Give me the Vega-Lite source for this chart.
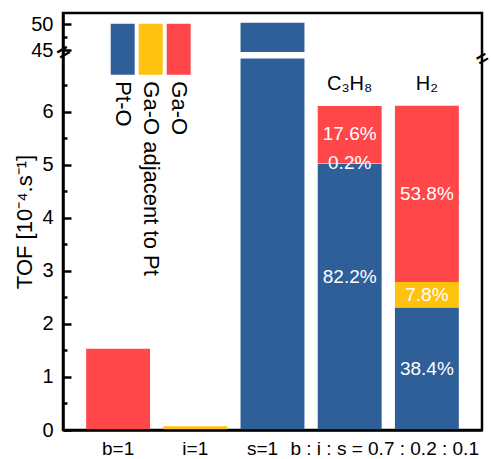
{
  "$schema": "https://vega.github.io/schema/vega-lite/v6.json",
  "width": 419,
  "height": 417,
  "autosize": {"type": "none"},
  "padding": {"left": 63, "top": 13, "right": 9, "bottom": 29},
  "background": "white",
  "config": {"font": "Liberation Sans", "view": {"stroke": "black", "strokeWidth": 2.5}, "axis": {"zindex": 1}},
  "data": {
    "values": [
      {"cat": "b=1", "comp": "Ga-O", "value": 1.53},
      {"cat": "i=1", "comp": "Ga-O adjacent to Pt", "value": 0.07},
      {"cat": "s=1", "comp": "Pt-O", "value": 50.3},
      {"cat": "C₃H₈", "comp": "Pt-O", "value": 5.02, "pct": "82.2%"},
      {"cat": "C₃H₈", "comp": "Ga-O adjacent to Pt", "value": 0.012, "pct": "0.2%"},
      {"cat": "C₃H₈", "comp": "Ga-O", "value": 1.075, "pct": "17.6%"},
      {"cat": "H₂", "comp": "Pt-O", "value": 2.31, "pct": "38.4%"},
      {"cat": "H₂", "comp": "Ga-O adjacent to Pt", "value": 0.48, "pct": "7.8%"},
      {"cat": "H₂", "comp": "Ga-O", "value": 3.32, "pct": "53.8%"}
    ]
  },
  "layer": [
    {
      "mark": {"type": "bar"},
      "encoding": {
        "x": {
          "field": "cat", "type": "nominal",
          "scale": {"type": "band", "domain": ["b=1", "i=1", "s=1", "C₃H₈", "H₂"], "paddingInner": 0.172, "paddingOuter": 0.3},
          "axis": {
            "zindex": 1,
            "title": null, "ticks": false, "tickSize": 0, "domainColor": "black", "domainWidth": 2.5,
            "labelPadding": 9, "labelFontSize": 19, "labelColor": "black", "labelLimit": 0, "labelAngle": 0,
            "labelOverlap": false,
            "labelExpr": "datum.value == 'C₃H₈' ? 'b : i : s = 0.7 : 0.2 : 0.1' : (datum.value == 'H₂' ? '' : datum.label)",
            "labelOffset": {"condition": [{"test": "datum.value == 's=1'", "value": -10}, {"test": "datum.value == 'C₃H₈'", "value": 35}], "value": 0}
          }
        },
        "y": {
          "field": "value", "type": "quantitative", "stack": "zero",
          "scale": {"domain": [0, 7, 44.67, 52.17], "range": [417, 45.6, 39, 0], "nice": false, "zero": false},
          "axis": {
            "zindex": 1,
            "values": [0, 1, 2, 3, 4, 5, 6, 45, 50],
            "ticks": true, "tickSize": -8, "tickWidth": 2.5, "tickColor": "black", "grid": false,
            "domainColor": "black", "domainWidth": 2.5,
            "labelPadding": 18, "labelFontSize": 20, "labelColor": "black", "labelOverlap": false, "labelFlush": false,
            "title": "TOF [10⁻⁴.s⁻¹]", "titleFontSize": 22, "titleFontWeight": "normal", "titleColor": "black",
            "titleX": -31.5, "titleBaseline": "alphabetic"
          }
        },
        "color": {
          "field": "comp", "type": "nominal",
          "scale": {"domain": ["Pt-O", "Ga-O adjacent to Pt", "Ga-O"], "range": ["#2f5f98", "#ffc20e", "#ff4749"]},
          "legend": {
            "orient": "none", "legendX": 47.7, "legendY": 10.6, "direction": "horizontal", "title": null,
            "symbolType": "M-0.47,-1H0.47V1H-0.47Z M0,1L0,10", "symbolSize": 2601, "symbolStrokeWidth": 0, "symbolOpacity": 1,
            "symbolOffset": -13.5,
            "columnPadding": 4, "padding": 0, "labelFontSize": 22, "labelColor": "black", "labelLimit": 0,
            "labelAlign": "left", "labelBaseline": "middle",
            "encoding": {
              "labels": {
                "angle": {"value": 90}, "x": {"value": 12}, "y": {"value": 57.5}
              }
            }
          }
        },
        "order": {"field": "comp", "sort": "descending"}
      }
    },
    {
      "transform": [{"filter": "datum.cat == 's=1'"}],
      "mark": {"type": "bar", "color": "white", "width": {"band": 1.06}},
      "encoding": {
        "x": {"field": "cat", "type": "nominal"},
        "y": {
          "datum": 7, "type": "quantitative",
          "scale": {"domain": [0, 7, 44.67, 52.17], "range": [417, 45.6, 39, 0], "nice": false, "zero": false},
          "axis": null
        },
        "y2": {"datum": 44.67}
      }
    },
    {
      "transform": [
        {"stack": "value", "groupby": ["cat"], "sort": [{"field": "comp", "order": "descending"}], "as": ["v0", "v1"]},
        {"filter": "datum.pct && datum.pct != '82.2%'"},
        {"calculate": "(datum.v0 + datum.v1) / 2", "as": "mid"}
      ],
      "mark": {"type": "text", "color": "white", "fontSize": 19, "baseline": "middle"},
      "encoding": {
        "x": {"field": "cat", "type": "nominal"},
        "y": {
          "field": "mid", "type": "quantitative",
          "scale": {"domain": [0, 7, 44.67, 52.17], "range": [417, 45.6, 39, 0], "nice": false, "zero": false},
          "axis": {"zindex": 1, "orient": "left", "values": [44.67], "labelExpr": "'='", "ticks": false, "domain": false, "grid": false, "title": null,
                   "labelPadding": 0, "labelAlign": "center", "labelBaseline": "middle", "labelAngle": -30, "labelFontSize": 22, "labelFontWeight": "bold", "labelColor": "black"}
        },
        "text": {"field": "pct"}
      }
    },
    {
      "transform": [
        {"stack": "value", "groupby": ["cat"], "sort": [{"field": "comp", "order": "descending"}], "as": ["v0", "v1"]},
        {"filter": "datum.pct == '82.2%'"},
        {"calculate": "(datum.v0 + datum.v1) / 2", "as": "mid"}
      ],
      "mark": {"type": "text", "color": "white", "fontSize": 19, "baseline": "middle", "dy": -20},
      "encoding": {
        "x": {"field": "cat", "type": "nominal"},
        "y": {
          "field": "mid", "type": "quantitative",
          "scale": {"domain": [0, 7, 44.67, 52.17], "range": [417, 45.6, 39, 0], "nice": false, "zero": false},
          "axis": {"zindex": 1, "orient": "right", "values": [7], "labelExpr": "'='", "ticks": false, "domain": false, "grid": false, "title": null,
                   "labelPadding": 0, "labelAlign": "center", "labelBaseline": "middle", "labelAngle": -30, "labelFontSize": 20, "labelFontWeight": "bold", "labelColor": "black"}
        },
        "text": {"field": "pct"}
      }
    },
    {
      "transform": [
        {"filter": "datum.pct"},
        {"aggregate": [{"op": "sum", "field": "value", "as": "total"}], "groupby": ["cat"]}
      ],
      "mark": {"type": "text", "color": "black", "fontSize": 20, "baseline": "alphabetic", "dy": -16},
      "encoding": {
        "x": {"field": "cat", "type": "nominal"},
        "y": {
          "field": "total", "type": "quantitative",
          "scale": {"domain": [0, 7, 44.67, 52.17], "range": [417, 45.6, 39, 0], "nice": false, "zero": false},
          "axis": {"zindex": 1, "orient": "left", "values": [0.5, 1.5, 2.5, 3.5, 4.5, 5.5, 6.5, 47.5], "labels": false, "domain": false, "grid": false, "title": null,
                   "ticks": true, "tickSize": -4, "tickWidth": 2.5, "tickColor": "black"}
        },
        "text": {"field": "cat"}
      }
    }
  ],
  "resolve": {"axis": {"y": "independent"}}
}
